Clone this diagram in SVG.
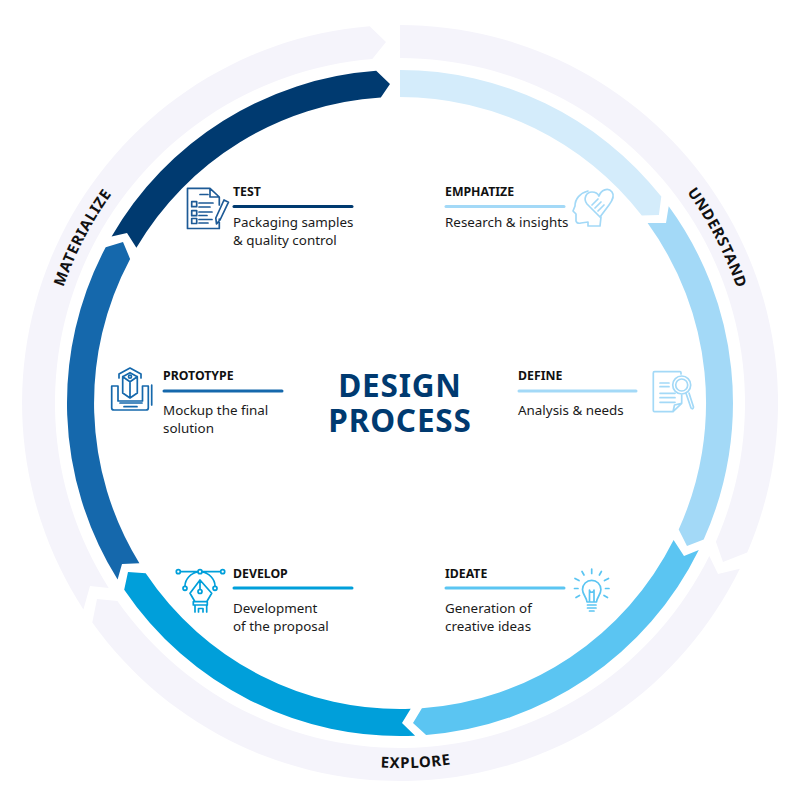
<svg xmlns="http://www.w3.org/2000/svg" width="800" height="806" viewBox="0 0 800 806">
<style>
text{font-family:"Noto Sans","Open Sans","Liberation Sans",sans-serif}
.t{font-size:12.300px;font-weight:700;fill:#111}
.b{font-size:13.400px;fill:#1a1a1a}
.h{font-size:31.500px;font-weight:700;fill:#003a70;text-anchor:middle;letter-spacing:.8px}
.c{font-size:15px;font-weight:700;fill:#111;text-anchor:middle;letter-spacing:.7px}
.o{fill:#f5f4fb}
.i{fill:none;stroke-width:1.700;stroke-linecap:round;stroke-linejoin:round}
.r{stroke-width:3;stroke-linecap:round}
</style>
<defs>
<path id="pu" d="M628.8 130.3A356 356 0 0 1 754.6 372"/>
<path id="pm" d="M45.4 372A356 356 0 0 1 171.2 130.3"/>
<path id="pe" d="M275.2 746A365 365 0 0 0 554.3 733.8"/>
</defs>
<rect width="800" height="806" fill="#fff"/>
<g id="outer-ring">
<path class="o" d="M400 25A378 378 0 0 1 747.2 552.5L723 562L715.9 541.7A345 345 0 0 0 400 58Z"/>
<path class="o" d="M739.8 568.7A378 378 0 0 1 92.3 622.5L97 599L117.4 600.9A345 345 0 0 0 709.3 555.9L718 574Z"/>
<path class="o" d="M83.4 609.4A378 378 0 0 1 369.7 26.2L386 42L372.3 59.1A345 345 0 0 0 108.7 587.9L90 586Z"/>
<text class="c"><textPath href="#pu" startOffset="50%">UNDERSTAND</textPath></text>
<text class="c"><textPath href="#pm" startOffset="50%">MATERIALIZE</textPath></text>
<text class="c"><textPath href="#pe" startOffset="50%">EXPLORE</textPath></text>
</g>
<g id="connectors">
<path fill="#d4ecfb" d="M400 70A333 333 0 0 1 661.3 196.6L658.9 214.9L641.8 215.5A306 306 0 0 0 400 97Z"/>
<path fill="#a3d9f7" d="M668.7 206.3A333 333 0 0 1 703.7 539.5L687 546L678.7 529.4A306 306 0 0 0 647.6 223.1L666 223Z"/>
<path fill="#5bc5f2" d="M698.8 550A333 333 0 0 1 426.1 735L413 723L421.9 708.2A306 306 0 0 0 673.6 540L684 556Z"/>
<path fill="#009fda" d="M415.1 735.7A333 333 0 0 1 124.2 589.7L128 572L145.7 573.2A306 306 0 0 0 410.7 708.8L402 723Z"/>
<path fill="#1568ac" d="M117.6 579.5A333 333 0 0 1 105.7 247.2L123 242L130.1 258.9A306 306 0 0 0 139.4 563.3L122 564Z"/>
<path fill="#003a70" d="M111.6 236.5A333 333 0 0 1 376.2 70.8L390 84L380.8 97.6A306 306 0 0 0 136.4 247.7L127 233Z"/>
</g>
<g id="center-title">
<text class="h" x="400" y="397">DESIGN</text>
<text class="h" x="400" y="432">PROCESS</text>
</g>
<g id="node-test">
<text class="t" x="233" y="196">TEST</text>
<line class="r" x1="234" y1="206.5" x2="352" y2="206.5" stroke="#003a70"/>
<text class="b" x="233" y="227">Packaging samples</text>
<text class="b" x="233" y="245">&amp; quality control</text>
<path class="i" stroke="#1d5a96" d="M219.3 205V197L210 188.3H187.5V228.5H219.3V219M210 188.3V197H219.3M200 194.5H208M191.7 201.7h5v5h-5zM191.7 210.7h5v5h-5zM191.7 218.5h5v5h-5zM199 203h14M199 207h11M199 212h13M199 215.5h8M199 219.5h13M199 223h9M224 200L228.500 202.200L220 220L216.500 223.800L215.800 218Z"/>
</g>
<g id="node-emphatize">
<text class="t" x="445" y="196">EMPHATIZE</text>
<line class="r" x1="446" y1="206.500" x2="564" y2="206.500" stroke="#a3d9f7"/>
<text class="b" x="445" y="227">Research &amp; insights</text>
<path class="i" stroke="#a3d9f7" d="M600 226L601 217M588 191C580 193 575 199 575 206L573 211L576 214V221Q577 224 581 223L588 222V226H600M600 217L587 204C583 199 586 192 592 192C596 192 598 194 599 196C601 190 608 187 612 192C615 196 612 201 609 205ZM592 205L598 199M595 208L601 202M598 211L604 205"/>
</g>
<g id="node-define">
<text class="t" x="518" y="380">DEFINE</text>
<line class="r" x1="519" y1="391" x2="636" y2="391" stroke="#a3d9f7"/>
<text class="b" x="518" y="415">Analysis &amp; needs</text>
<path class="i" stroke="#a3d9f7" d="M681 374V372.700Q681 371.700 680 371.700H654.500Q653.300 371.700 653.300 373V410.500Q653.300 411.700 654.500 411.700H673L681.700 403.300V395M673 411.700L674.500 405L681.700 403.300M660 383H669M660 386.700H669M660 393.300H675M660 397.700H675M660 402.300H675M686 393.300L691 408Q693 410 693.500 407L689 393"/>
<circle class="i" stroke="#a3d9f7" cx="681.700" cy="385" r="9"/>
<circle class="i" stroke="#a3d9f7" cx="681.700" cy="385" r="6"/>
</g>
<g id="node-prototype">
<text class="t" x="163" y="380">PROTOTYPE</text>
<line class="r" x1="164" y1="391" x2="282" y2="391" stroke="#1568ac"/>
<text class="b" x="163" y="415">Mockup the final</text>
<text class="b" x="163" y="433">solution</text>
<path class="i" stroke="#1568ac" d="M130 372.700L137.300 376.700L130 381.700L122.700 376.700ZM122.700 376.700V393L130 398L137.300 393V376.700M130 381.700V398M119 378V374L130 368L141 374V378M118 386H111.700V408Q111.700 410 114 410H146Q148.300 410 148.300 408V386H142.500M118 386V401H142.500V386M151.700 385V405M120 403H142M124 406.700H137"/>
<circle class="i" stroke="#1568ac" cx="130" cy="376.700" r="1.500"/>
</g>
<g id="node-develop">
<text class="t" x="233" y="578">DEVELOP</text>
<line class="r" x1="234" y1="588" x2="352" y2="588" stroke="#009fda"/>
<text class="b" x="233" y="613">Development</text>
<text class="b" x="233" y="631">of the proposal</text>
<path class="i" stroke="#009fda" d="M181 571.700H197.500M202.500 571.700H220M185 586C185 579 191 573 198 572M215 586C215 579 209 573 202 572M200 580L190 593.300L195 601.700H206.700L211.700 593.300ZM200 580V589.500M193.300 601.700H207.300V605H193.300ZM195 605V612M206.700 605V612M198.500 612V608.500H203V612"/>
<circle class="i" stroke="#009fda" cx="178.300" cy="571.700" r="2"/>
<circle class="i" stroke="#009fda" cx="200" cy="571.700" r="2"/>
<circle class="i" stroke="#009fda" cx="222.700" cy="571.700" r="2"/>
<circle class="i" stroke="#009fda" cx="185" cy="588.300" r="2"/>
<circle class="i" stroke="#009fda" cx="215" cy="588.300" r="2"/>
<circle class="i" stroke="#009fda" cx="200" cy="591.500" r="2"/>
</g>
<g id="node-ideate">
<text class="t" x="445" y="578">IDEATE</text>
<line class="r" x1="446" y1="588" x2="564" y2="588" stroke="#5bc5f2"/>
<text class="b" x="445" y="613">Generation of</text>
<text class="b" x="445" y="631">creative ideas</text>
<path class="i" stroke="#5bc5f2" d="M587 602C586.500 597 582.500 594.500 582.500 589.500A9.200 9.200 0 0 1 600.900 589.500C600.900 594.500 597 597 596.500 602ZM589.500 602V590M594 602V590M589.500 590A2 2 0 1 0 594 590M587.500 605H596M587.500 608H596M589.500 611H594M591.700 569V573.500M582 571.500L584 575M601.400 571.500L599.400 575M575 578.500L579 580.500M608.500 578.500L604.500 580.500M574.500 588.500H578M605.500 588.500H609M576 597.500L579.500 595.500M607.500 597.500L604 595.500"/>
</g>
</svg>
